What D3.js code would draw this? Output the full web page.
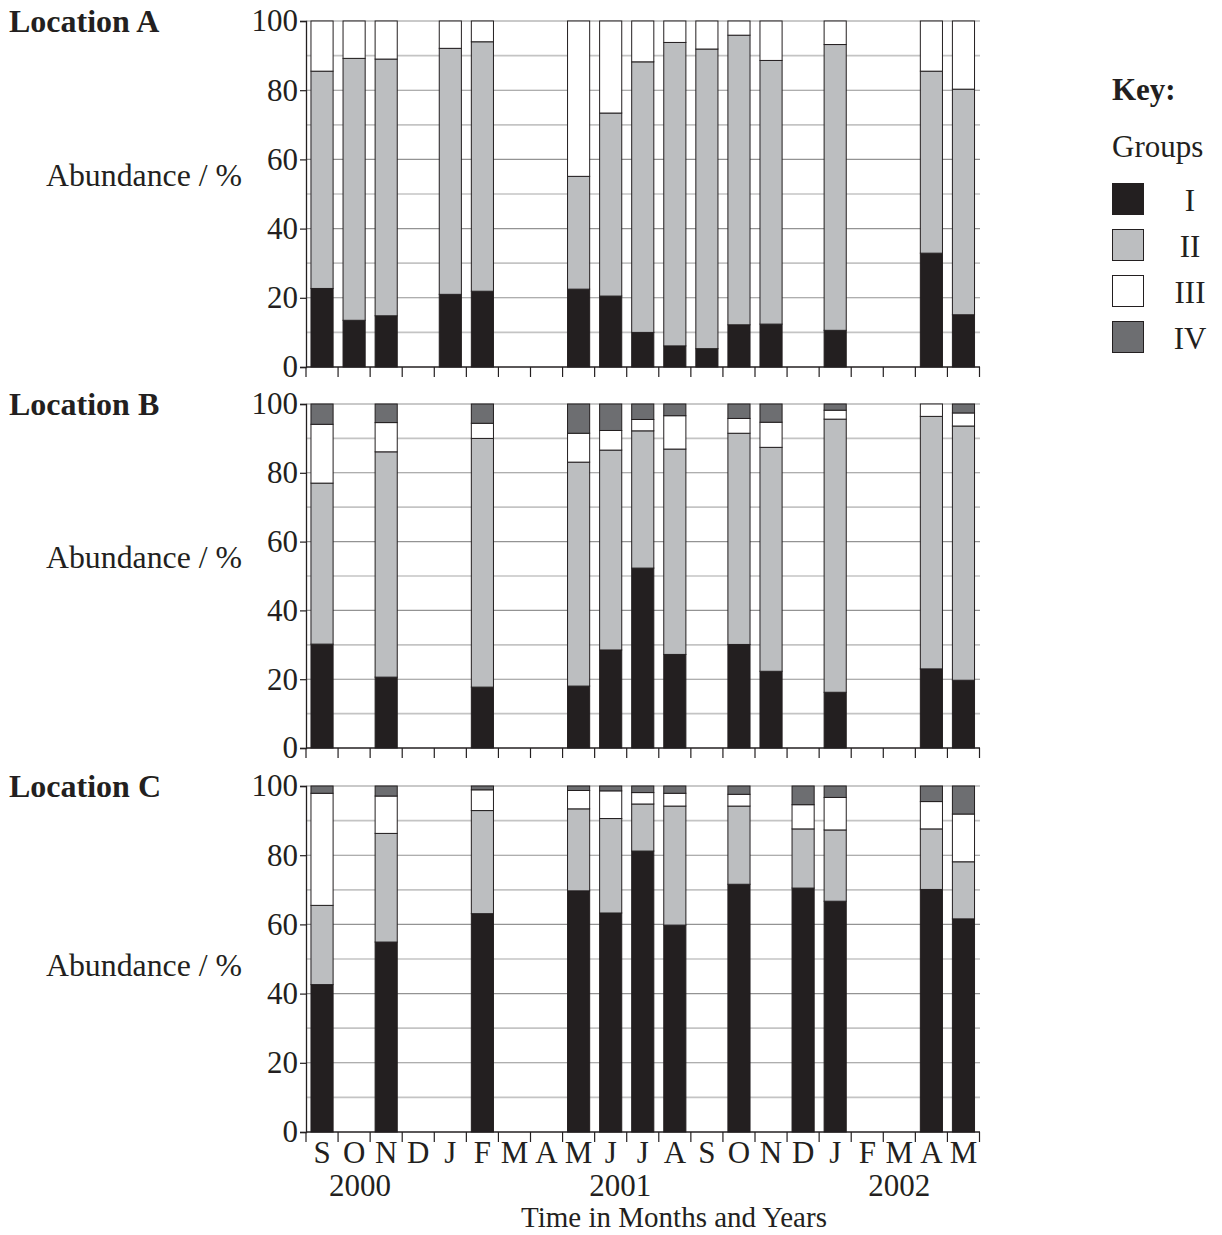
<!DOCTYPE html>
<html><head><meta charset="utf-8">
<script src="https://cdn.jsdelivr.net/npm/d3@7"></script>
<style>
body{margin:0;background:#fff;}
svg text{font-family:"Liberation Serif","Times New Roman",serif;fill:#231f20;}
</style></head>
<body>
<svg id="chart" width="1222" height="1235"></svg>
<script>
// ---- data ----
const months = ["S","O","N","D","J","F","M","A","M","J","J","A","S","O","N","D","J","F","M","A","M"];
const years = [{label:"2000", at:1.68}, {label:"2001", at:9.8}, {label:"2002", at:18.5}];
const groups = ["I","II","III","IV"];
const yTicks = [0,20,40,60,80,100];
const yGrid = [10,20,30,40,50,60,70,80,90,100];

const n = null;
// Location A
const A_I   = [22.7,13.5,14.8,n,21.0,21.9,n,n,22.5,20.5,10.0,6.1,5.3,12.2,12.4,n,10.6,n,n,32.9,15.1];
const A_II  = [62.8,75.7,74.2,n,71.1,72.1,n,n,32.6,52.9,78.2,87.7,86.6,83.7,76.2,n,82.6,n,n,52.6,65.2];
const A_III = [14.5,10.8,11.0,n,7.9,6.0,n,n,44.9,26.6,11.8,6.2,8.1,4.1,11.4,n,6.8,n,n,14.5,19.7];
const A_IV  = [0,0,0,n,0,0,n,n,0,0,0,0,0,0,0,n,0,n,n,0,0];
// Location B
const B_I   = [30.2,n,20.6,n,n,17.7,n,n,18.0,28.5,52.3,27.2,n,30.1,22.3,n,16.2,n,n,23.0,19.7];
const B_II  = [46.8,n,65.5,n,n,72.3,n,n,65.1,58.1,39.9,59.7,n,61.4,65.1,n,79.4,n,n,73.4,73.9];
const B_III = [17.1,n,8.5,n,n,4.4,n,n,8.4,5.7,3.3,9.7,n,4.3,7.3,n,2.6,n,n,3.6,3.8];
const B_IV  = [5.9,n,5.4,n,n,5.6,n,n,8.5,7.7,4.5,3.4,n,4.2,5.3,n,1.8,n,n,0,2.6];
// Location C
const C_I   = [42.6,n,54.9,n,n,63.1,n,n,69.7,63.3,81.2,59.8,n,71.6,n,70.5,66.7,n,n,70.1,61.6];
const C_II  = [22.9,n,31.4,n,n,29.8,n,n,23.7,27.3,13.6,34.4,n,22.6,n,17.1,20.6,n,n,17.5,16.5];
const C_III = [32.4,n,10.8,n,n,6.0,n,n,5.3,8.0,3.3,3.7,n,3.4,n,7.0,9.4,n,n,7.9,13.8];
const C_IV  = [2.1,n,2.9,n,n,1.1,n,n,1.3,1.4,1.9,2.1,n,2.4,n,5.4,3.3,n,n,4.5,8.1];

const colors = {I:"#231f20", II:"#bcbec0", III:"#ffffff", IV:"#6d6e71"};

// ---- layout ----
const panels = [
  {name:"Location A", series:[A_I,A_II,A_III,A_IV], y0:367, y1:21, titleY:32, abY:186},
  {name:"Location B", series:[B_I,B_II,B_III,B_IV], y0:748, y1:404, titleY:415, abY:568},
  {name:"Location C", series:[C_I,C_II,C_III,C_IV], y0:1132, y1:786, titleY:797, abY:976}
];

const svg = d3.select("#chart");
const x = d3.scaleBand().domain(d3.range(months.length)).range([306, 979.5])
  .paddingInner(0.31).paddingOuter(0.155);

panels.forEach((p, pi) => {
  const y = d3.scaleLinear().domain([0,100]).range([p.y0, p.y1]);
  const g = svg.append("g");

  // grid
  g.selectAll("line.grid").data(yGrid).join("line")
    .attr("x1", 306).attr("x2", 980)
    .attr("y1", d => y(d)).attr("y2", d => y(d))
    .attr("stroke", d => d % 20 === 0 ? "#939393" : "#c4c4c4")
    .attr("stroke-width", d => d % 20 === 0 ? 1.1 : 1.7);

  // stacked bars
  const rows = months.map((m, i) => {
    const o = {i};
    groups.forEach((k, gi) => o[k] = p.series[gi][i]);
    return o;
  }).filter(r => r.I !== null);
  const stack = d3.stack().keys(groups)(rows);
  stack.forEach(layer => {
    g.selectAll(null).data(layer.filter(d => d[1] - d[0] > 0)).join("rect")
      .attr("x", d => x(d.data.i))
      .attr("width", x.bandwidth())
      .attr("y", d => y(d[1]))
      .attr("height", d => y(d[0]) - y(d[1]))
      .attr("fill", colors[layer.key])
      .attr("stroke", "#231f20")
      .attr("stroke-width", 1);
  });

  // y axis
  const yAxis = d3.axisLeft(y).tickValues(yTicks).tickSize(6).tickPadding(2).tickFormat(d3.format("d"));
  const ya = g.append("g").attr("transform", "translate(306,0)").call(yAxis);
  ya.attr("font-family", null).attr("font-size", null);
  ya.select(".domain").attr("stroke", "#231f20").attr("stroke-width", 1.3);
  ya.selectAll(".tick line").attr("stroke", "#231f20").attr("stroke-width", 1.2);
  ya.selectAll(".tick text").attr("font-size", 31).attr("fill", "#231f20");

  // x axis (boundary ticks)
  const bounds = d3.range(months.length + 1).map(i => 306 + i * x.step());
  g.append("line").attr("x1", 306).attr("x2", 980).attr("y1", p.y0).attr("y2", p.y0)
    .attr("stroke", "#231f20").attr("stroke-width", 1.5);
  g.selectAll("line.xt").data(bounds).join("line")
    .attr("x1", d => d).attr("x2", d => d).attr("y1", p.y0).attr("y2", p.y0 + 10)
    .attr("stroke", "#231f20").attr("stroke-width", 1.2);

  // titles
  svg.append("text").attr("x", 9).attr("y", p.titleY).attr("font-size", 32)
    .attr("font-weight", "bold").text(p.name);
  svg.append("text").attr("x", 46).attr("y", p.abY).attr("font-size", 31.8).text("Abundance / %");

  if (pi === 2) {
    svg.selectAll(null).data(months).join("text")
      .attr("x", (d, i) => x(i) + x.bandwidth() / 2).attr("y", 1163)
      .attr("text-anchor", "middle").attr("font-size", 31).text(d => d);
    svg.selectAll(null).data(years).join("text")
      .attr("x", d => 306 + d.at * x.step()).attr("y", 1196)
      .attr("text-anchor", "middle").attr("font-size", 31).text(d => d.label);
    svg.append("text").attr("x", 674).attr("y", 1227).attr("text-anchor", "middle")
      .attr("font-size", 29).text("Time in Months and Years");
  }
});

// key
svg.append("text").attr("x", 1112).attr("y", 100).attr("font-size", 31).attr("font-weight", "bold").text("Key:");
svg.append("text").attr("x", 1112).attr("y", 157).attr("font-size", 31).text("Groups");
const keyY = d3.scalePoint().domain(groups).range([183, 321]);
const kg = svg.append("g");
kg.selectAll("rect").data(groups).join("rect")
  .attr("x", 1112.5).attr("y", d => keyY(d) + 0.5).attr("width", 31).attr("height", 31)
  .attr("fill", d => colors[d]).attr("stroke", "#231f20").attr("stroke-width", 1);
kg.selectAll("text").data(groups).join("text")
  .attr("x", 1190).attr("y", d => keyY(d) + 28).attr("text-anchor", "middle")
  .attr("font-size", 31).text(d => d);
</script>
</body></html>
